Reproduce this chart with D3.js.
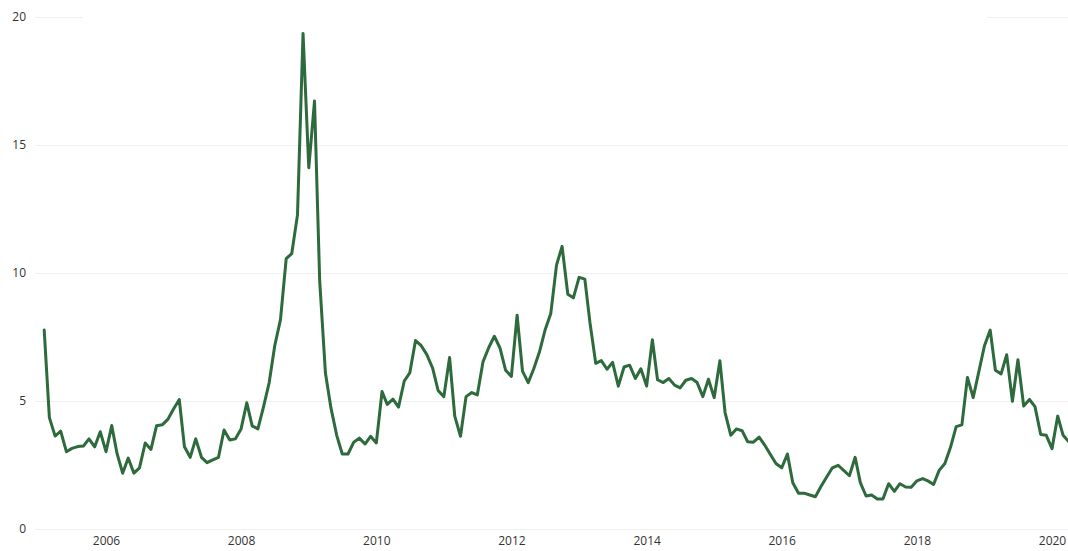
<!DOCTYPE html>
<html>
<head>
<meta charset="utf-8">
<script src="https://cdn.jsdelivr.net/npm/d3@7"></script>
<style>
  html, body { margin: 0; padding: 0; background: #fff; }
  svg { display: block; }
  text { font-family: "Open Sans", "Noto Sans", sans-serif; }
</style>
</head>
<body>
<svg id="chart" width="1068" height="551"></svg>
<script>
// Monthly series starting Feb 2005
const startMonth = "2005-02";
const values = [
  7.77, 4.35, 3.63, 3.82, 3.02, 3.15, 3.22, 3.24, 3.52, 3.21, 3.80,
  3.02, 4.04, 2.97, 2.18, 2.77, 2.18, 2.39, 3.36, 3.11, 4.03, 4.07, 4.28,
  4.69, 5.06, 3.21, 2.80, 3.52, 2.80, 2.59, 2.70, 2.80, 3.87, 3.48, 3.52,
  3.91, 4.93, 4.03, 3.91, 4.76, 5.72, 7.16, 8.18, 10.56, 10.76, 12.27, 19.36,
  14.11, 16.72, 9.69, 6.09, 4.72, 3.66, 2.93, 2.93, 3.39, 3.55, 3.32, 3.62,
  3.36, 5.37, 4.87, 5.07, 4.76, 5.78, 6.10, 7.36, 7.16, 6.81, 6.29, 5.41,
  5.17, 6.70, 4.41, 3.62, 5.17, 5.33, 5.24, 6.54, 7.09, 7.53, 7.06, 6.20,
  5.96, 8.35, 6.17, 5.72, 6.26, 6.92, 7.77, 8.42, 10.31, 11.04, 9.17, 9.03,
  9.83, 9.76, 8.05, 6.47, 6.58, 6.24, 6.51, 5.58, 6.33, 6.40, 5.88, 6.26,
  5.58, 7.39, 5.83, 5.72, 5.88, 5.62, 5.51, 5.81, 5.88, 5.72, 5.17, 5.85,
  5.13, 6.57, 4.55, 3.66, 3.91, 3.84, 3.41, 3.39, 3.59, 3.28, 2.91, 2.56,
  2.39, 2.93, 1.81, 1.40, 1.40, 1.33, 1.26, 1.67, 2.04, 2.39, 2.49, 2.29,
  2.08, 2.80, 1.81, 1.29, 1.33, 1.17, 1.17, 1.77, 1.47, 1.77, 1.64, 1.63,
  1.88, 1.97, 1.88, 1.74, 2.29, 2.56, 3.18, 4.00, 4.07, 5.92, 5.13, 6.13,
  7.16, 7.77, 6.20, 6.06, 6.81, 4.99, 6.61, 4.80, 5.06, 4.78, 3.69, 3.66,
  3.14, 4.41, 3.66, 3.41
];
const yTicks = [0, 5, 10, 15, 20];
const xTickYears = [2006, 2008, 2010, 2012, 2014, 2016, 2018, 2020];

const parseMonth = d3.timeParse("%Y-%m");
const start = parseMonth(startMonth);
const data = values.map((v, i) => ({ date: d3.timeMonth.offset(start, i), value: v }));

const svg = d3.select("#chart");
const W = 1068, H = 551;
const gridLeft = 35, gridRight = 1068;

const x = d3.scaleTime()
  .domain([new Date(2006, 0, 1), new Date(2020, 0, 1)])
  .range([106, 1052]);
const y = d3.scaleLinear().domain([0, 20]).range([529, 17]);

// Gridlines + y labels via axis
const yAxis = d3.axisLeft(y)
  .tickValues(yTicks)
  .tickSize(-(gridRight - gridLeft))
  .tickPadding(9)
  .tickFormat(d3.format("d"));
const gy = svg.append("g")
  .attr("transform", `translate(${gridLeft},0)`)
  .call(yAxis);
gy.select(".domain").remove();
gy.selectAll(".tick line").attr("stroke", "#efefef").attr("stroke-width", 1);
gy.selectAll(".tick text")
  .attr("fill", "#333")
  .style("font-size", "12px");

// Title box area covering the top gridline (title sits above the view)
svg.append("rect")
  .attr("x", 83).attr("y", 8).attr("width", 904).attr("height", 18)
  .attr("fill", "#fff");

// X axis labels
const xAxis = d3.axisBottom(x)
  .tickValues(xTickYears.map(yr => new Date(yr, 0, 1)))
  .tickSize(0)
  .tickPadding(0)
  .tickFormat(d3.timeFormat("%Y"));
const gx = svg.append("g")
  .attr("transform", "translate(0,536)")
  .call(xAxis);
gx.select(".domain").remove();
gx.selectAll(".tick text")
  .attr("fill", "#333")
  .attr("dy", "0.71em")
  .style("font-size", "12px");

// Line
const line = d3.line()
  .x(d => x(d.date))
  .y(d => y(d.value));
svg.append("path")
  .datum(data)
  .attr("fill", "none")
  .attr("stroke", "#2d6a3c")
  .attr("stroke-width", 3)
  .attr("stroke-linejoin", "round")
  .attr("stroke-linecap", "round")
  .attr("d", line);
</script>
</body>
</html>
